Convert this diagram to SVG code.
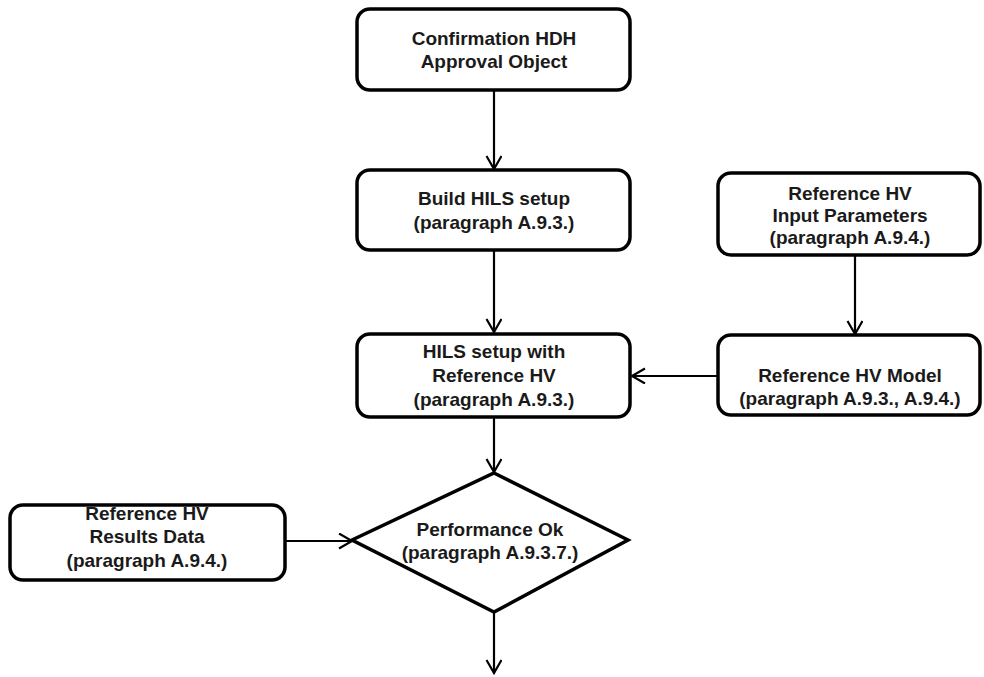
<svg xmlns="http://www.w3.org/2000/svg" width="984" height="677" viewBox="0 0 984 677">
<style>
.box{fill:#fff;stroke:#000;stroke-width:3.5}
.t{font-family:"Liberation Sans",Arial,sans-serif;font-weight:bold;font-size:19px;text-anchor:middle;fill:#1a1a1a}
.c{stroke:#000;stroke-width:2.2;fill:none}
</style>
<defs>
<marker id="a" markerWidth="18" markerHeight="18" refX="14" refY="8" orient="auto" markerUnits="userSpaceOnUse">
<path d="M1,0.5 L14,8 L1,15.5" fill="none" stroke="#000" stroke-width="2.2"/>
</marker>
</defs>
<g id="connectors">
<line class="c" x1="494" y1="90" x2="494" y2="169" marker-end="url(#a)"/>
<line class="c" x1="494" y1="250" x2="494" y2="332" marker-end="url(#a)"/>
<line class="c" x1="855" y1="255" x2="855" y2="334" marker-end="url(#a)"/>
<line class="c" x1="718" y1="376" x2="632" y2="376" marker-end="url(#a)"/>
<line class="c" x1="494" y1="417" x2="494" y2="472" marker-end="url(#a)"/>
<line class="c" x1="285" y1="541" x2="352" y2="541" marker-end="url(#a)"/>
<line class="c" x1="494" y1="612" x2="494" y2="673" marker-end="url(#a)"/>
</g>
<g id="n1"><rect class="box" x="357" y="9" width="273" height="81" rx="13"/>
<text class="t" x="494" y="45">Confirmation HDH</text><text class="t" x="494" y="68">Approval Object</text></g>
<g id="n2"><rect class="box" x="357" y="170" width="273" height="80" rx="13"/>
<text class="t" x="494" y="205">Build HILS setup</text><text class="t" x="494" y="229">(paragraph A.9.3.)</text></g>
<g id="n3"><rect class="box" x="718" y="173" width="262" height="82" rx="13"/>
<text class="t" x="850" y="200">Reference HV</text><text class="t" x="850" y="222">Input Parameters</text><text class="t" x="850" y="244">(paragraph A.9.4.)</text></g>
<g id="n4"><rect class="box" x="357" y="334" width="273" height="83" rx="13"/>
<text class="t" x="494" y="358">HILS setup with</text><text class="t" x="494" y="382">Reference HV</text><text class="t" x="494" y="406">(paragraph A.9.3.)</text></g>
<g id="n5"><rect class="box" x="718" y="335" width="262" height="80" rx="13"/>
<text class="t" x="850" y="382">Reference HV Model</text><text class="t" x="850" y="405">(paragraph A.9.3., A.9.4.)</text></g>
<g id="n6"><rect class="box" x="10" y="505" width="275" height="75" rx="13"/>
<text class="t" x="147" y="520">Reference HV</text><text class="t" x="147" y="543">Results Data</text><text class="t" x="147" y="567">(paragraph A.9.4.)</text></g>
<g id="n7"><polygon class="box" points="494,473 628,540 494,612 352,540"/>
<text class="t" x="490" y="536">Performance Ok</text><text class="t" x="490" y="559">(paragraph A.9.3.7.)</text></g>
</svg>
